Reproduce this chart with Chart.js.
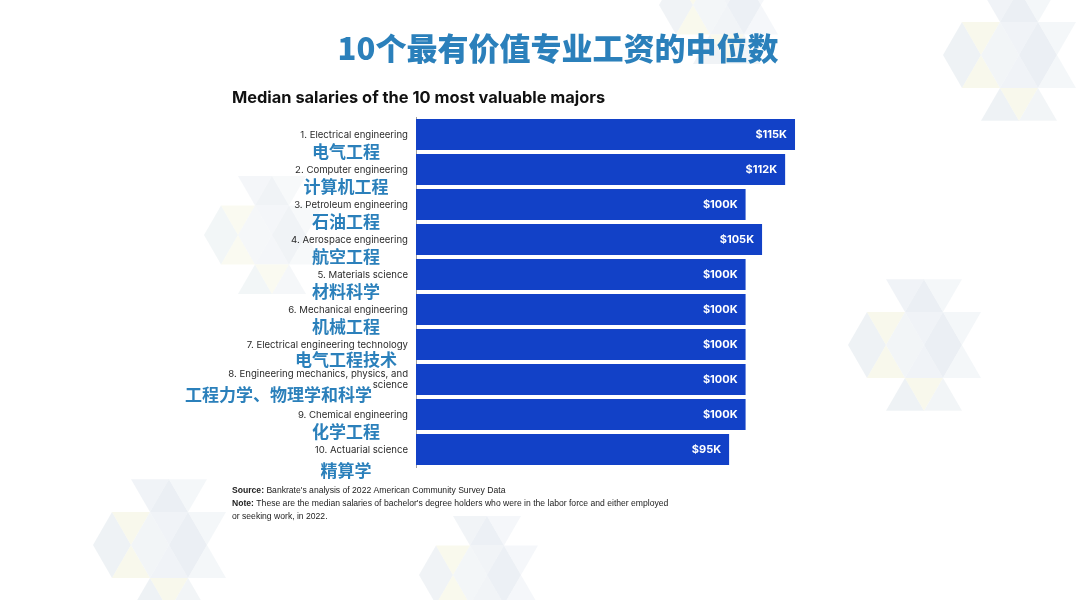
<!DOCTYPE html>
<html>
<head>
<meta charset="utf-8">
<script src="https://cdn.jsdelivr.net/npm/chart.js@4"></script>
<style>
html,body{margin:0;padding:0;background:#fff;}
#wrap{width:1080px;height:600px;position:relative;}
</style>
</head>
<body>
<div id="wrap"><canvas id="c" width="1080" height="600"></canvas></div>
<script>
const mainTitle = '10个最有价值专业工资的中位数';
const subTitle = 'Median salaries of the 10 most valuable majors';
const enLabels = [
  ['1. Electrical engineering'],
  ['2. Computer engineering'],
  ['3. Petroleum engineering'],
  ['4. Aerospace engineering'],
  ['5. Materials science'],
  ['6. Mechanical engineering'],
  ['7. Electrical engineering technology'],
  ['8. Engineering mechanics, physics, and', 'science'],
  ['9. Chemical engineering'],
  ['10. Actuarial science']
];
const zhLabels = ['电气工程','计算机工程','石油工程','航空工程','材料科学','机械工程','电气工程技术','工程力学、物理学和科学','化学工程','精算学'];
const salaries = [115, 112, 100, 105, 100, 100, 100, 100, 100, 95];
const valueLabels = ['$115K','$112K','$100K','$105K','$100K','$100K','$100K','$100K','$100K','$95K'];
const sourceText = "Bankrate's analysis of 2022 American Community Survey Data";
const noteLines = ["These are the median salaries of bachelor's degree holders who were in the labor force and either employed", 'or seeking work, in 2022.'];

const BLUE = '#1241c7';
const TEAL = '#2b80bb';

function drawCluster(ctx, cx, cy, s, alpha) {
  // faint decorative "C"-shaped cluster of triangles
  const cols = ['#e6ebf1','#dde4ec','#edf1f5','#e3eaee','#f4f4df','#e9eef2'];
  ctx.save();
  ctx.globalAlpha = alpha;
  const h = s * Math.sqrt(3) / 2;
  let k = 0;
  for (let r = -2; r < 2; r++) {
    for (let q = -3; q < 3; q++) {
      const x0 = cx + q * s / 2;
      const y0 = cy + r * h;
      const up = ((q + r) % 2 + 2) % 2 === 0;
      const dx = x0 - cx, dy = y0 + h / 2 - cy;
      if (Math.hypot(dx, dy) > s * 1.6) continue;
      if (dx > s * 0.2 && Math.abs(dy) < h * 0.6 && k % 3 === 0) { k++; continue; }
      ctx.beginPath();
      if (up) { ctx.moveTo(x0, y0 + h); ctx.lineTo(x0 + s / 2, y0); ctx.lineTo(x0 + s, y0 + h); }
      else { ctx.moveTo(x0, y0); ctx.lineTo(x0 + s, y0); ctx.lineTo(x0 + s / 2, y0 + h); }
      ctx.closePath();
      ctx.fillStyle = cols[(k++) % cols.length];
      ctx.fill();
    }
  }
  ctx.restore();
}

const decoPlugin = {
  id: 'deco',
  beforeDraw(chart) {
    const ctx = chart.ctx;
    ctx.save();
    ctx.fillStyle = '#ffffff';
    ctx.fillRect(0, 0, chart.width, chart.height);
    ctx.restore();
    drawCluster(ctx, 1000, 55, 38, 0.6);
    drawCluster(ctx, 905, 345, 38, 0.6);
    drawCluster(ctx, 150, 545, 38, 0.6);
    drawCluster(ctx, 255, 235, 34, 0.45);
    drawCluster(ctx, 470, 575, 34, 0.55);
    drawCluster(ctx, 710, 5, 34, 0.55);
  }
};

const textPlugin = {
  id: 'texts',
  afterDatasetsDraw(chart) {
    const ctx = chart.ctx;
    const ys = chart.scales.y;
    const meta = chart.getDatasetMeta(0);
    ctx.save();
    // values inside bars
    ctx.font = 'bold 11px Inter, "Liberation Sans", sans-serif';
    ctx.fillStyle = '#ffffff';
    ctx.textAlign = 'right';
    ctx.textBaseline = 'middle';
    meta.data.forEach((bar, i) => {
      ctx.fillText(valueLabels[i], bar.x - 8, bar.y + 0.5);
    });
    // category labels
    const rightX = chart.chartArea.left - 8;
    enLabels.forEach((lines, i) => {
      const cy = ys.getPixelForValue(i);
      ctx.fillStyle = '#2b2b2b';
      ctx.font = '9.6px Inter, "Liberation Sans", sans-serif';
      ctx.textAlign = 'right';
      ctx.textBaseline = 'middle';
      if (lines.length === 1) {
        ctx.fillText(lines[0], rightX, cy + 0.5);
        ctx.fillStyle = TEAL;
        ctx.font = 'bold 17px "Noto Sans CJK SC", sans-serif';
        ctx.textAlign = 'center';
        const next = enLabels[i + 1];
        let off = 17.5;
        if (i === enLabels.length - 1) off = 21;
        else if (next && next.length > 1) off = 15.5;
        ctx.fillText(zhLabels[i], 346, cy + off);
      } else {
        ctx.fillText(lines[0], rightX, cy - 5.5);
        ctx.fillText(lines[1], rightX, cy + 6);
        ctx.fillStyle = TEAL;
        ctx.font = 'bold 17px "Noto Sans CJK SC", sans-serif';
        ctx.textAlign = 'right';
        ctx.fillText(zhLabels[i], 372, cy + 15);
      }
    });
    ctx.restore();
  },
  afterDraw(chart) {
    const ctx = chart.ctx;
    ctx.save();
    // main title
    ctx.fillStyle = TEAL;
    ctx.font = '900 31px "Noto Sans CJK SC", sans-serif';
    ctx.textAlign = 'center';
    ctx.textBaseline = 'middle';
    ctx.fillText(mainTitle, 558, 48.5);
    // subtitle
    ctx.fillStyle = '#111111';
    ctx.font = 'bold 16.4px Inter, "Liberation Sans", sans-serif';
    ctx.textAlign = 'left';
    ctx.fillText(subTitle, 232, 98);
    // footnotes
    ctx.font = 'bold 8.6px "Liberation Sans", Arial, sans-serif';
    ctx.fillStyle = '#222222';
    ctx.fillText('Source:', 232, 491);
    let w = ctx.measureText('Source: ').width;
    ctx.font = '8.6px "Liberation Sans", Arial, sans-serif';
    ctx.fillText(sourceText, 232 + w, 491);
    ctx.font = 'bold 8.6px "Liberation Sans", Arial, sans-serif';
    ctx.fillText('Note:', 232, 504);
    w = ctx.measureText('Note: ').width;
    ctx.font = '8.6px "Liberation Sans", Arial, sans-serif';
    ctx.fillText(noteLines[0], 232 + w, 504);
    ctx.fillText(noteLines[1], 232, 517);
    ctx.restore();
  }
};

new Chart(document.getElementById('c'), {
  type: 'bar',
  data: {
    labels: zhLabels,
    datasets: [{
      data: salaries,
      backgroundColor: BLUE,
      borderWidth: 0,
      barPercentage: 0.89,
      categoryPercentage: 1.0
    }]
  },
  options: {
    indexAxis: 'y',
    responsive: false,
    animation: false,
    devicePixelRatio: 1,
    layout: { padding: { left: 416, right: 268.5, top: 117, bottom: 133 } },
    plugins: { legend: { display: false }, tooltip: { enabled: false }, title: { display: false } },
    scales: {
      x: { display: false, min: 0, max: 120 },
      y: {
        display: true,
        ticks: { display: false },
        grid: { display: false, drawTicks: false },
        border: { display: true, color: '#a0a0a0', width: 1 }
      }
    }
  },
  plugins: [decoPlugin, textPlugin]
});
</script>
</body>
</html>
